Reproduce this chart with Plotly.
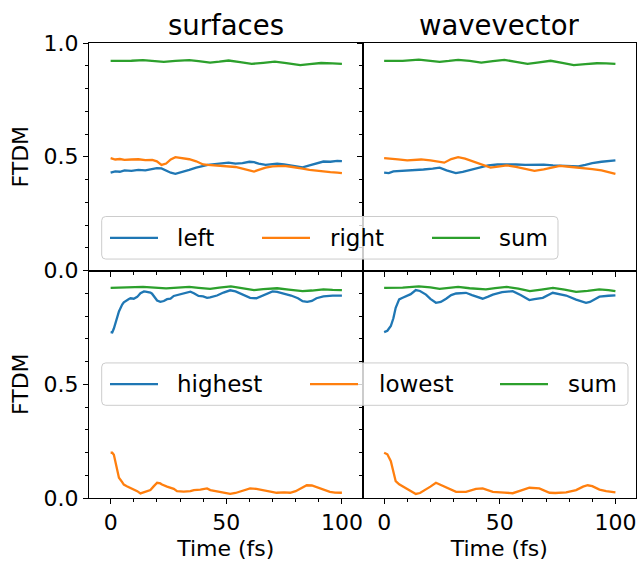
import plotly.graph_objects as go
from plotly.subplots import make_subplots

# ---------------- data ----------------
# top-left: surfaces, left / right / sum
t_surf_left = [0, 2, 4, 6, 9, 12, 15, 18, 20, 22, 24, 26, 28, 31, 34, 37, 40, 42, 45, 48, 51, 54, 57, 60,
               62, 64, 67, 70, 72, 75, 78, 81, 83, 86, 89, 92, 95, 98, 100]
surf_left = [.430, .436, .434, .440, .438, .442, .440, .446, .450, .449, .440, .430, .425, .432, .442, .452,
             .460, .464, .468, .470, .474, .470, .472, .478, .476, .470, .464, .468, .470, .466, .462, .458,
             .453, .462, .472, .479, .478, .482, .481]
surf_right = [.494, .488, .490, .486, .488, .489, .485, .486, .480, .464, .470, .488, .498, .494, .489, .480,
              .466, .464, .462, .460, .458, .455, .448, .440, .435, .442, .452, .458, .460, .460, .456, .452,
              .448, .442, .438, .434, .432, .430, .428]
t_surf_sum = [0, 5, 9, 14, 18, 23, 28, 34, 38, 43, 47, 51, 56, 61, 66, 71, 76, 82, 86, 91, 96, 100]
surf_sum = [.921, .920, .922, .925, .922, .917, .921, .925, .920, .914, .918, .923, .916, .908, .913, .918,
            .912, .903, .907, .912, .910, .908]

# top-right: wavevector, left / right / sum
t_wave_left = [0, 2, 4, 8, 12, 17, 21, 24, 27, 31, 34, 37, 41, 45, 49, 53, 57, 61, 65, 69, 73, 77, 81, 84,
               87, 90, 94, 97, 100]
wave_left = [.430, .428, .436, .438, .442, .444, .448, .452, .440, .428, .434, .442, .454, .462, .466, .467,
             .466, .464, .466, .465, .462, .460, .458, .458, .464, .472, .478, .481, .484]
t_wave_right = [0, 3, 6, 10, 13, 16, 20, 23, 26, 29, 32, 35, 38, 42, 46, 50, 53, 57, 61, 65, 69, 73, 76, 80,
                85, 90, 94, 97, 100]
wave_right = [.494, .490, .488, .484, .486, .488, .484, .480, .474, .490, .498, .492, .482, .466, .452, .458,
              .462, .456, .446, .438, .444, .454, .460, .456, .452, .446, .440, .432, .425]
t_wave_sum = [0, 8, 15, 20, 24, 28, 32, 37, 42, 47, 52, 57, 62, 67, 72, 77, 82, 87, 92, 96, 100]
wave_sum = [.921, .921, .927, .922, .917, .921, .926, .921, .914, .920, .926, .917, .908, .915, .922, .913,
            .903, .907, .911, .910, .908]

# bottom-left: surfaces, highest / lowest / sum
t_surf_high = [0, 0.7, 1.4, 2.2, 3.6, 5, 5.7, 7.9, 8.6, 10, 11.5, 12.9, 14.4, 15.1, 17.2, 17.9, 20.1, 21.5,
               23, 24.4, 25.9, 27.3, 29, 31.6, 34.5, 36, 38, 40, 41.7, 43, 46, 48.8, 51.7, 54, 57, 60.3, 63,
               66, 70, 72, 75, 78, 81, 83, 85, 87, 89, 92, 96, 100]
surf_high = [.729, .728, .745, .775, .820, .850, .860, .875, .878, .876, .884, .900, .908, .907, .903, .898,
             .868, .862, .866, .874, .876, .888, .892, .897, .907, .900, .888, .886, .880, .882, .890, .903,
             .913, .908, .895, .880, .878, .892, .908, .906, .898, .890, .878, .865, .862, .866, .878, .886,
             .890, .890]
t_surf_low = [0, 0.7, 1.4, 2.2, 3, 3.6, 5, 5.7, 7, 8.6, 10, 11.5, 12.9, 14.4, 16, 17.2, 18.5, 20.1, 21.5,
              22.2, 24.4, 25.9, 27.3, 28.7, 31.6, 34.5, 36, 38.8, 41.7, 43.1, 46, 48.8, 51.7, 54, 57, 60.3,
              63, 66.1, 69, 71.8, 75, 77.6, 80, 83, 84.8, 87, 89.1, 92, 94.8, 97, 100]
surf_low = [.199, .199, .190, .147, .115, .089, .070, .059, .052, .045, .040, .030, .020, .025, .030, .035,
            .050, .067, .064, .059, .050, .045, .040, .030, .028, .030, .035, .037, .042, .035, .030, .023,
            .018, .022, .030, .042, .040, .035, .028, .023, .025, .023, .030, .045, .056, .055, .048, .035,
            .027, .024, .023]
t_surf_sum2 = [0, 5, 10, 14, 19, 24, 29, 34, 38, 43, 47, 52, 56, 62, 66, 72, 77, 83, 87, 92, 96, 100]
surf_sum2 = [.924, .926, .927, .928, .925, .921, .925, .928, .924, .919, .925, .930, .924, .914, .918, .922,
             .916, .909, .912, .917, .915, .914]

# bottom-right: wavevector, highest / lowest / sum
t_wave_high = [0, 1.4, 2.9, 4, 5, 6.5, 8, 9.4, 11.5, 13.7, 15.5, 18.1, 20, 22.4, 24.5, 26.8, 29, 31.1, 35.4,
               38, 42.6, 45, 47, 51, 55.6, 59, 62.8, 65, 68.6, 72.9, 75.5, 78.7, 83, 87.3, 89, 93.1, 97, 100]
wave_high = [.729, .735, .756, .790, .836, .873, .880, .887, .896, .914, .910, .894, .875, .858, .862, .876,
             .892, .899, .902, .892, .876, .885, .894, .905, .909, .892, .870, .874, .880, .902, .897, .890,
             .872, .858, .862, .885, .889, .891]
t_wave_low = [0, 1.4, 2.9, 4, 5, 6.5, 7.9, 10, 12, 13.7, 15.5, 18.1, 20, 22.4, 24.5, 26.8, 29, 31.1, 35.4,
              38, 39.7, 42.6, 45, 47, 52, 55.6, 59, 62.8, 67.1, 71.5, 74, 78.7, 83, 86, 88, 90, 93.1, 96, 100]
wave_low = [.199, .192, .162, .120, .074, .060, .052, .040, .028, .018, .022, .037, .050, .067, .058, .048,
            .036, .027, .027, .033, .040, .042, .032, .027, .024, .021, .032, .045, .042, .023, .022, .025,
            .035, .050, .056, .052, .037, .030, .025]
t_wave_sum2 = [0, 8, 15, 20, 24, 28, 32, 37, 44, 48, 53, 58, 63, 68, 73, 78, 83, 88, 93, 97, 100]
wave_sum2 = [.924, .925, .930, .926, .919, .924, .928, .922, .917, .923, .928, .920, .909, .916, .924, .916,
             .906, .910, .917, .914, .909]

col_titles = ["surfaces", "wavevector"]
y_label = "FTDM"
x_label = "Time (fs)"
x_tickvals = [0, 50, 100]
y_tickvals_top = [0.0, 0.5, 1.0]
y_tickvals_bottom = [0.0, 0.5]
legend_top = ["left", "right", "sum"]
legend_bottom = ["highest", "lowest", "sum"]

BLUE, ORANGE, GREEN = "#1f77b4", "#ff7f0e", "#2ca02c"
COLORS = [BLUE, ORANGE, GREEN]
FONT = "DejaVu Sans"

# ---------------- figure ----------------
fig = make_subplots(rows=2, cols=2, horizontal_spacing=0, vertical_spacing=0)

LW = 2.3
panels = [
    (1, 1, [(t_surf_left, surf_left), (t_surf_left, surf_right), (t_surf_sum, surf_sum)], legend_top),
    (1, 2, [(t_wave_left, wave_left), (t_wave_right, wave_right), (t_wave_sum, wave_sum)], legend_top),
    (2, 1, [(t_surf_high, surf_high), (t_surf_low, surf_low), (t_surf_sum2, surf_sum2)], legend_bottom),
    (2, 2, [(t_wave_high, wave_high), (t_wave_low, wave_low), (t_wave_sum2, wave_sum2)], legend_bottom),
]
for r, c, series, names in panels:
    for (xs, ys), name, color in zip(series, names, COLORS):
        fig.add_trace(go.Scatter(x=xs, y=ys, mode="lines", name=name,
                                 line=dict(color=color, width=LW), showlegend=False),
                      row=r, col=c)

axis_common = dict(showline=True, linecolor="black", linewidth=1, mirror=True,
                   ticks="outside", ticklen=5, tickwidth=1, tickcolor="black",
                   showgrid=False, zeroline=False,
                   tickfont=dict(family=FONT, size=22, color="black"))
for r in (1, 2):
    for c in (1, 2):
        fig.update_xaxes(range=[-9.35, 108.9], tickvals=x_tickvals,
                         minor=dict(ticks="outside", ticklen=3, dtick=10, tick0=0,
                                    tickcolor="black", tickwidth=1, showgrid=False),
                         showticklabels=(r == 2),
                         title=dict(text=x_label if r == 2 else "",
                                    font=dict(family=FONT, size=22, color="black"), standoff=6),
                         row=r, col=c, **axis_common)
        fig.update_yaxes(range=[0, 1.0],
                         tickvals=y_tickvals_top if r == 1 else y_tickvals_bottom,
                         tickformat=".1f",
                         minor=dict(ticks="outside", ticklen=3, dtick=0.1, tick0=0,
                                    tickcolor="black", tickwidth=1, showgrid=False),
                         showticklabels=(c == 1),
                         title=dict(text=y_label if c == 1 else "",
                                    font=dict(family=FONT, size=22, color="black"), standoff=8),
                         row=r, col=c, **axis_common)

# page layout (body margin is removed by the post script, so page px == figure px)
W, H = 639, 562
ML, MR, MT, MB = 89, 3, 43, 63.5
PW, PH = W - ML - MR, H - MT - MB
X0, Y1 = ML, MT + PH   # px of paper (0, 0)


def px(x):
    return (x - X0) / PW


def py(y):
    return (Y1 - y) / PH


for i, txt in enumerate(col_titles):
    fig.add_annotation(text=txt, x=0.25 + 0.5 * i, y=1, xref="paper", yref="paper",
                       xanchor="center", yanchor="bottom", showarrow=False, yshift=1,
                       height=30, valign="middle",
                       font=dict(family=FONT, size=27.5, color="black"))


def rounded_box(x0, y0, x1, y1, r=4):
    pts = [("M", x0 + r, y0), ("L", x1 - r, y0), ("Q", x1, y0, x1, y0 + r), ("L", x1, y1 - r),
           ("Q", x1, y1, x1 - r, y1), ("L", x0 + r, y1), ("Q", x0, y1, x0, y1 - r),
           ("L", x0, y0 + r), ("Q", x0, y0, x0 + r, y0)]
    out = []
    for p in pts:
        cmd, coords = p[0], p[1:]
        s = " ".join(f"{px(coords[k]):.5f},{py(coords[k + 1]):.5f}" for k in range(0, len(coords), 2))
        out.append(cmd + s)
    return " ".join(out) + " Z"


def draw_legend(names, box, line_x, text_x):
    x0, y0, x1, y1 = box
    yc = (y0 + y1) / 2
    fig.add_shape(type="path", path=rounded_box(x0, y0, x1, y1), xref="paper", yref="paper",
                  fillcolor="rgba(255,255,255,0.8)", line=dict(color="#cccccc", width=1),
                  layer="above")
    for name, color, lx, tx in zip(names, COLORS, line_x, text_x):
        fig.add_shape(type="line", x0=px(lx), x1=px(lx + 48), y0=py(yc), y1=py(yc),
                      xref="paper", yref="paper", line=dict(color=color, width=LW), layer="above")
        fig.add_annotation(text=name, x=px(tx), y=py(yc), xref="paper", yref="paper",
                           xanchor="left", yanchor="middle", showarrow=False,
                           font=dict(family=FONT, size=23, color="black"))


draw_legend(legend_top, (101.7, 216.7, 558, 259.3), (110, 262, 432), (175, 328, 497))
draw_legend(legend_bottom, (101.7, 363.3, 628, 405.7), (110, 310, 500), (175, 377, 566))

fig.update_layout(
    width=W, height=H,
    margin=dict(l=ML, r=MR, t=MT, b=MB),
    paper_bgcolor="white", plot_bgcolor="white",
    font=dict(family=FONT, size=22, color="black"),
    showlegend=False,
)

fig.write_html("out.html", config={"displayModeBar": False},
               post_script="document.body.style.margin='0';document.body.style.overflow='hidden';")
